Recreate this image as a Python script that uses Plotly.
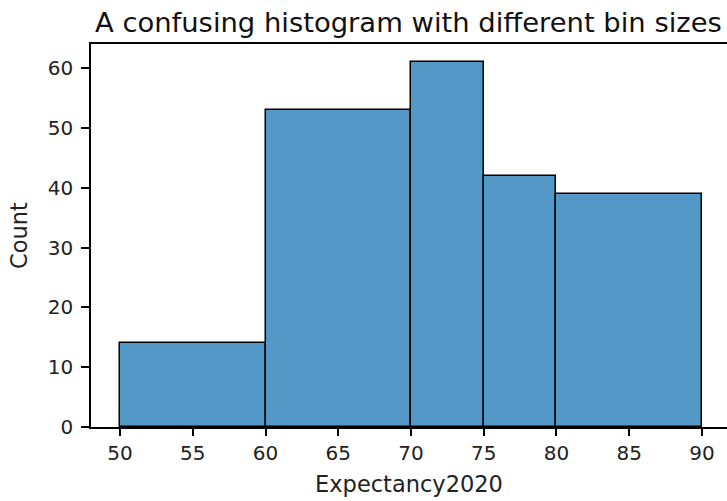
import plotly.graph_objects as go

bin_edges = [50, 60, 70, 75, 80, 90]
counts = [14, 53, 61, 42, 39]
x_ticks = [50, 55, 60, 65, 70, 75, 80, 85, 90]
y_ticks = [0, 10, 20, 30, 40, 50, 60]

centers = [(a + b) / 2 for a, b in zip(bin_edges[:-1], bin_edges[1:])]
widths = [b - a for a, b in zip(bin_edges[:-1], bin_edges[1:])]

font = "DejaVu Sans, sans-serif"

fig = go.Figure(go.Bar(
    x=centers, y=counts, width=widths,
    marker=dict(color="rgb(84,152,199)", line=dict(color="black", width=1.5)),
))

fig.update_layout(
    width=727, height=501,
    margin=dict(l=91, r=0, t=44, b=74),
    plot_bgcolor="white", paper_bgcolor="white",
    font=dict(family=font, size=20, color="#222"),
    showlegend=False,
    bargap=0,
)
fig.update_xaxes(
    range=[48, 48 + 44 * 636 / 640],
    tickvals=x_ticks, ticks="outside", ticklen=7, tickwidth=1.5, tickcolor="black",
    showline=True, linecolor="black", linewidth=1.5, mirror=True,
    showgrid=False, zeroline=False, automargin=False,
    tickfont=dict(size=20),
    title=dict(text="Expectancy2020", font=dict(size=22.5), standoff=12),
)
fig.update_yaxes(
    range=[0, 64.05],
    tickvals=y_ticks, ticks="outside", ticklen=8, tickwidth=1.5, tickcolor="black",
    showline=True, linecolor="black", linewidth=1.5,
    showgrid=False, zeroline=False, automargin=False,
    tickfont=dict(size=20), ticklabelstandoff=4,
    title=dict(text="Count", font=dict(size=22.5), standoff=14),
)
fig.add_annotation(
    text="A confusing histogram with different bin sizes",
    xref="paper", yref="paper", x=(408.5 - 91) / 636, y=1,
    xanchor="center", yanchor="bottom", yshift=4,
    showarrow=False, font=dict(size=27.4, color="#111"),
)

fig.write_html(
    "out.html",
    config={"displayModeBar": False},
    post_script="document.body.style.margin='0';document.body.style.overflow='hidden';",
)
